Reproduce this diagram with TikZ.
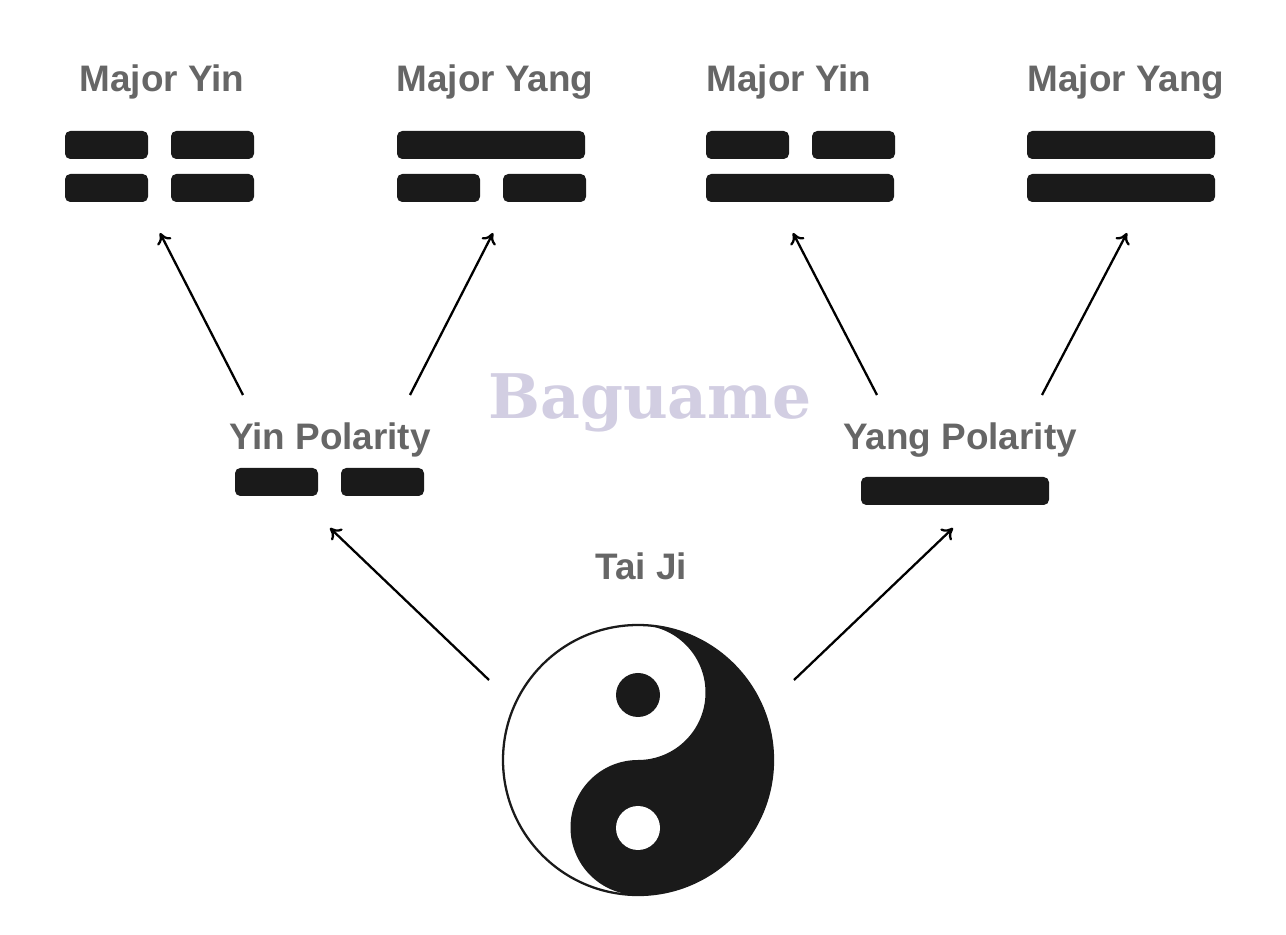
\documentclass[tikz,border=0pt]{standalone}
\usepackage{fontspec}
\setmainfont{Liberation Sans}
\newfontfamily\markfont{DejaVu Serif}
\usetikzlibrary{arrows.meta}
\definecolor{labelgrey}{HTML}{666666}
\definecolor{barblack}{HTML}{1A1A1A}
\definecolor{markcolor}{HTML}{D2CEE2}
\tikzset{
	lbl/.style={text=labelgrey, font=\bfseries\fontsize{21}{25}\selectfont, inner sep=0pt},
	bar/.style={fill=barblack, rounded corners=3pt},
	arr/.style={-{To[length=6pt, width=9pt]}, line width=1.3pt},
}
\newcommand{\fullbar}[2]{\fill[bar] (#1, #2) rectangle ++(188, 28);}
\newcommand{\brokenbar}[2]{\fill[bar] (#1, #2) rectangle ++(83, 28); \fill[bar] (#1+106, #2) rectangle ++(83, 28);}
\begin{document}
\begin{tikzpicture}[x=0.02cm, y=-0.02cm]
	\useasboundingbox (0, 0) rectangle (1286, 935);
	% watermark
	\node[text=markcolor, font=\markfont\bfseries\fontsize{35}{40}\selectfont] (mark) at (650, 403) {Baguame};
	% labels
	\node[lbl] (yin1) at (162, 82) {Major Yin};
	\node[lbl] (yang1) at (495, 82) {Major Yang};
	\node[lbl] (yin2) at (789, 82) {Major Yin};
	\node[lbl] (yang2) at (1126, 82) {Major Yang};
	\node[lbl] (yinpol) at (330, 440) {Yin Polarity};
	\node[lbl] (yangpol) at (960, 440) {Yang Polarity};
	\node[lbl] (taiji) at (641, 566) {Tai Ji};
	% bars
	\brokenbar{65}{131} \brokenbar{65}{174}
	\fullbar{397}{131} \brokenbar{397}{174}
	\brokenbar{706}{131} \fullbar{706}{174}
	\fullbar{1027}{131} \fullbar{1027}{174}
	\brokenbar{235}{468}
	\fullbar{861}{477}
	% tai ji symbol
	\fill[barblack] (638, 625) arc[start angle=-90, end angle=90, radius=135]
		arc[start angle=90, end angle=270, radius=67.5]
		arc[start angle=90, end angle=-90, radius=67.5];
	\draw[barblack, line width=1.3pt] (638, 760) circle[radius=135];
	\fill[barblack] (638, 695) circle[radius=22];
	\fill[white] (638, 828) circle[radius=22];
	% connectors
	\coordinate (s1) at (243, 395); \coordinate (e1) at (160, 233);
	\coordinate (s2) at (410, 395); \coordinate (e2) at (493, 233);
	\coordinate (s3) at (877, 395); \coordinate (e3) at (793, 233);
	\coordinate (s4) at (1042, 395); \coordinate (e4) at (1127, 233);
	\coordinate (s5) at (489, 680); \coordinate (e5) at (330, 528);
	\coordinate (s6) at (794, 680); \coordinate (e6) at (953, 528);
	\foreach \i in {1,...,6}
		\draw[arr] (s\i) -- (e\i);
\end{tikzpicture}
\end{document}
